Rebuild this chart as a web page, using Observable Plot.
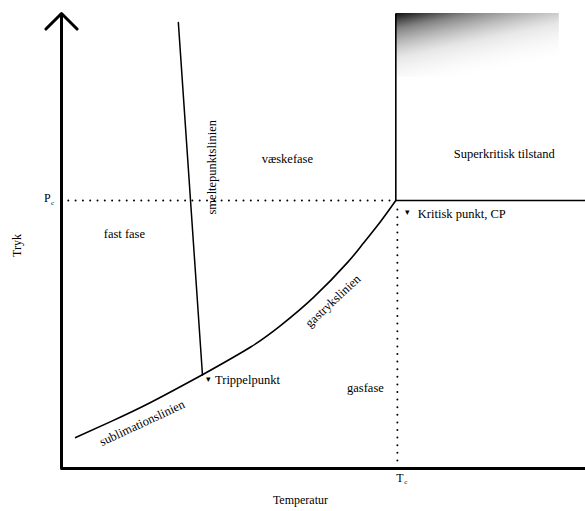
<!DOCTYPE html>
<html>
<head>
<meta charset="utf-8">
<script src="https://cdn.jsdelivr.net/npm/d3@7"></script>
<script src="https://cdn.jsdelivr.net/npm/@observablehq/plot@0.6"></script>
<style>
  html, body { margin: 0; padding: 0; background: #fff; }
  #chart { width: 585px; height: 511px; }
</style>
</head>
<body>
<div id="chart"></div>
<script>
// Phase diagram, abstract units: Temperatur 0–100, Tryk 0–100
const criticalPoint = {T: 63.8, P: 58.9};
const triplePoint = {T: 26.9, P: 20.6};

// sublimation line (from low T up to triple point)
const sublimationT = [2.7, 9.4, 17.0, 26.9];
const sublimationP = [6.8, 10.3, 14.5, 20.6];

// vapour-pressure line (triple point to critical point)
const gasT = [26.9, 36.1, 41.8, 48.1, 54.6, 57.6, 60.9, 63.8];
const gasP = [20.6, 26.7, 31.4, 37.6, 45.3, 49.5, 54.3, 58.9];

// melting line
const meltT = [22.3, 26.9];
const meltP = [98, 20.6];

// region / line labels
const labelText = ["væskefase", "fast fase", "smeltepunktslinien", "Superkritisk tilstand", "gasfase", "gastrykslinien", "sublimationslinien"];
const labelT = [43.1, 12.0, 28.8, 84.5, 58.0, 51.8, 15.4];
const labelP = [68.1, 51.6, 66.2, 69.2, 17.8, 36.8, 10.0];
const labelRotate = [0, 0, -90, 0, 0, -43, -25];

// point annotations
const pointText = ["Kritisk punkt, CP", "Trippelpunkt"];
const pointT = [68.0, 29.3];
const pointP = [56.0, 19.4];
const markerT = [66.0, 28.1];
const markerP = [56.3, 19.7];

// axis labels
const axisNames = ["Temperatur", "Tryk"];

const sublimation = sublimationT.map((T, i) => ({T, P: sublimationP[i]}));
const gasLine = gasT.map((T, i) => ({T, P: gasP[i]}));
const melt = meltT.map((T, i) => ({T, P: meltP[i]}));
const labels = labelText.map((text, i) => ({text, T: labelT[i], P: labelP[i], r: labelRotate[i]}));
const points = pointText.map((text, i) => ({text, T: pointT[i], P: pointP[i], mT: markerT[i], mP: markerP[i]}));

const font = "Liberation Serif";

const plot = Plot.plot({
  width: 585,
  height: 511,
  margin: 0,
  x: {domain: [0, 100], range: [61, 585], axis: null},
  y: {domain: [0, 100], range: [468, 13], axis: null},
  style: {fontFamily: font, background: "#fff"},
  marks: [
    // shaded scan artefact in the supercritical box
    Plot.rect([{x1: criticalPoint.T, x2: 95, y1: 86, y2: 100}], {x1: "x1", x2: "x2", y1: "y1", y2: "y2", fill: "url(#shade)"}),
    // dotted Pc and Tc guides
    Plot.ruleY([criticalPoint.P], {x1: 0, x2: criticalPoint.T, stroke: "#000", strokeWidth: 2, strokeDasharray: "0,7.3", strokeLinecap: "round"}),
    Plot.ruleX([criticalPoint.T + 0.3], {y1: 0, y2: criticalPoint.P - 1.5, stroke: "#000", strokeWidth: 2, strokeDasharray: "0,7.6", strokeLinecap: "round"}),
    // supercritical box
    Plot.ruleX([criticalPoint.T], {y1: criticalPoint.P, y2: 99.8, stroke: "#000", strokeWidth: 1.6}),
    Plot.ruleY([criticalPoint.P], {x1: criticalPoint.T, x2: 100, stroke: "#000", strokeWidth: 1.6}),
    // phase boundaries
    Plot.line(sublimation, {x: "T", y: "P", curve: "natural", stroke: "#000", strokeWidth: 1.6}),
    Plot.line(gasLine, {x: "T", y: "P", curve: "natural", stroke: "#000", strokeWidth: 1.6}),
    Plot.line(melt, {x: "T", y: "P", stroke: "#000", strokeWidth: 1.5}),
    // axes
    Plot.ruleY([0], {x1: 0, x2: 100, stroke: "#000", strokeWidth: 3}),
    Plot.arrow([{x1: 0, y1: 0, x2: 0, y2: 100}], {x1: "x1", y1: "y1", x2: "x2", y2: "y2", stroke: "#000", strokeWidth: 3, headLength: 11, headAngle: 90}),
    // labels
    Plot.text(labels, {x: "T", y: "P", text: "text", rotate: "r", fontSize: 12.5, fill: "#000"}),
    Plot.text(points, {x: "mT", y: "mP", text: () => "▾", fontSize: 9, fill: "#000"}),
    Plot.text(points, {x: "T", y: "P", text: "text", textAnchor: "start", fontSize: 12.5, fill: "#000"}),
    // Pc and Tc
    Plot.text(["P"], {x: -2.7, y: criticalPoint.P + 0.5, text: d => d, fontSize: 12, fill: "#000"}),
    Plot.text(["c"], {x: -1.7, y: criticalPoint.P - 0.6, text: d => d, fontSize: 7, fill: "#000"}),
    Plot.text(["T"], {x: criticalPoint.T + 0.8, y: -2.2, text: d => d, fontSize: 12, fill: "#000"}),
    Plot.text(["c"], {x: criticalPoint.T + 1.9, y: -2.9, text: d => d, fontSize: 7, fill: "#000"}),
    // axis names
    Plot.text([axisNames[0]], {x: 45.6, y: -7.0, text: d => d, fontSize: 12, fill: "#000"}),
    Plot.text([axisNames[1]], {x: -8.4, y: 49, text: d => d, rotate: -90, fontSize: 12, fill: "#000"})
  ]
});

const defs = d3.create("svg:defs");
const grad = defs.append("linearGradient").attr("id", "shade").attr("x1", "0").attr("y1", "0").attr("x2", "0.55").attr("y2", "1");
grad.append("stop").attr("offset", "0").attr("stop-color", "#000").attr("stop-opacity", 0.95);
grad.append("stop").attr("offset", "0.2").attr("stop-color", "#333").attr("stop-opacity", 0.6);
grad.append("stop").attr("offset", "0.55").attr("stop-color", "#888").attr("stop-opacity", 0.2);
grad.append("stop").attr("offset", "1").attr("stop-color", "#fff").attr("stop-opacity", 0);
plot.insertBefore(defs.node(), plot.firstChild);

document.getElementById("chart").appendChild(plot);
</script>
</body>
</html>
